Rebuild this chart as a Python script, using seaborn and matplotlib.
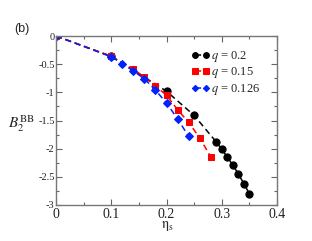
import matplotlib
matplotlib.use("Agg")
import matplotlib.pyplot as plt
import seaborn as sns
import pandas as pd
from matplotlib.ticker import MultipleLocator

sns.set_theme(style="ticks")
plt.rcParams['font.family'] = ['Liberation Serif', 'DejaVu Serif']
plt.rcParams['font.serif'] = ['Liberation Serif', 'DejaVu Serif']
plt.rcParams['mathtext.fontset'] = 'stix'

eta_02 = [0.0, 0.10, 0.20, 0.25, 0.29, 0.30, 0.31, 0.32, 0.33, 0.34, 0.35]
b2_02 = [0.0, -0.36, -0.98, -1.41, -1.88, -2.01, -2.15, -2.29, -2.45, -2.62, -2.80]

eta_015 = [0.0, 0.10, 0.14, 0.16, 0.18, 0.20, 0.22, 0.24, 0.26, 0.28]
b2_015 = [0.0, -0.36, -0.59, -0.73, -0.89, -1.05, -1.31, -1.53, -1.81, -2.14]

eta_0126 = [0.0, 0.10, 0.12, 0.14, 0.16, 0.18, 0.20, 0.22, 0.24]
b2_0126 = [0.0, -0.37, -0.49, -0.62, -0.76, -0.96, -1.19, -1.47, -1.78]

labels = [r'$q$ = 0.2', r'$q$ = 0.15', r'$q$ = 0.126']
colors = ['black', '#ff0000', '#0022ff']
markers = ['o', 's', 'D']
msizes = [5.2, 4.6, 4]

xtick_labels = ['0', '0.1', '0.2', '0.3', '0.4']
ytick_labels = ['0', '-0.5', '-1', '-1.5', '-2', '-2.5', '-3']

fig = plt.figure(figsize=(3.12, 2.41), dpi=100)
ax = fig.add_axes([56/312, 1-205/241, (277-56)/312, (205-36)/241])

series = [(eta_02, b2_02), (eta_015, b2_015), (eta_0126, b2_0126)]
for (x, y), lab, c, m, ms in zip(series, labels, colors, markers, msizes):
    df = pd.DataFrame({'eta': x, 'B2': y})
    sns.lineplot(data=df, x='eta', y='B2', ax=ax, color=c, marker=m,
                 markersize=ms, markeredgecolor=c, linestyle=(0, (4, 2.5)),
                 linewidth=1.1, label=lab, sort=False)

ax.set_xlim(0, 0.4)
ax.set_ylim(-3, 0)
ax.set_xticks([0, 0.1, 0.2, 0.3, 0.4])
ax.set_xticklabels(xtick_labels, fontfamily='Liberation Serif', fontsize=10)
ax.set_yticks([0, -0.5, -1, -1.5, -2, -2.5, -3])
ax.set_yticklabels(ytick_labels, fontfamily='Liberation Serif', fontsize=7.5)
ax.xaxis.set_minor_locator(MultipleLocator(0.05))
ax.yaxis.set_minor_locator(MultipleLocator(0.25))
ax.tick_params(which='both', direction='in', top=True, right=True,
               color='#666666', width=0.8)
ax.tick_params(which='major', length=4)
ax.tick_params(which='minor', length=2)
ax.tick_params(axis='x', pad=2, labelcolor='#222222')
ax.tick_params(axis='y', pad=1, labelcolor='#222222')
for s in ax.spines.values():
    s.set_color('#777777')
    s.set_linewidth(1.0)

ax.set_xlabel(r'$\mathrm{\eta_s}$', fontsize=10, labelpad=0)
ax.xaxis.set_label_coords(0.505, -0.085)
ax.set_ylabel(r'$B_2^{\mathrm{BB}}$', fontsize=11, rotation=0, labelpad=0)
ax.yaxis.set_label_coords(-0.155, 0.42)

leg = ax.legend(loc='upper right', bbox_to_anchor=(0.965, 0.975), frameon=False,
                fontsize=9, handlelength=1.5, handletextpad=0.1,
                labelspacing=0.12, borderpad=0.2, numpoints=2,
                markerscale=0.8)

fig.text(14/312, 1-32/241, '(b)', fontsize=9, family='Liberation Sans')

fig.savefig('out.png', dpi=100)
